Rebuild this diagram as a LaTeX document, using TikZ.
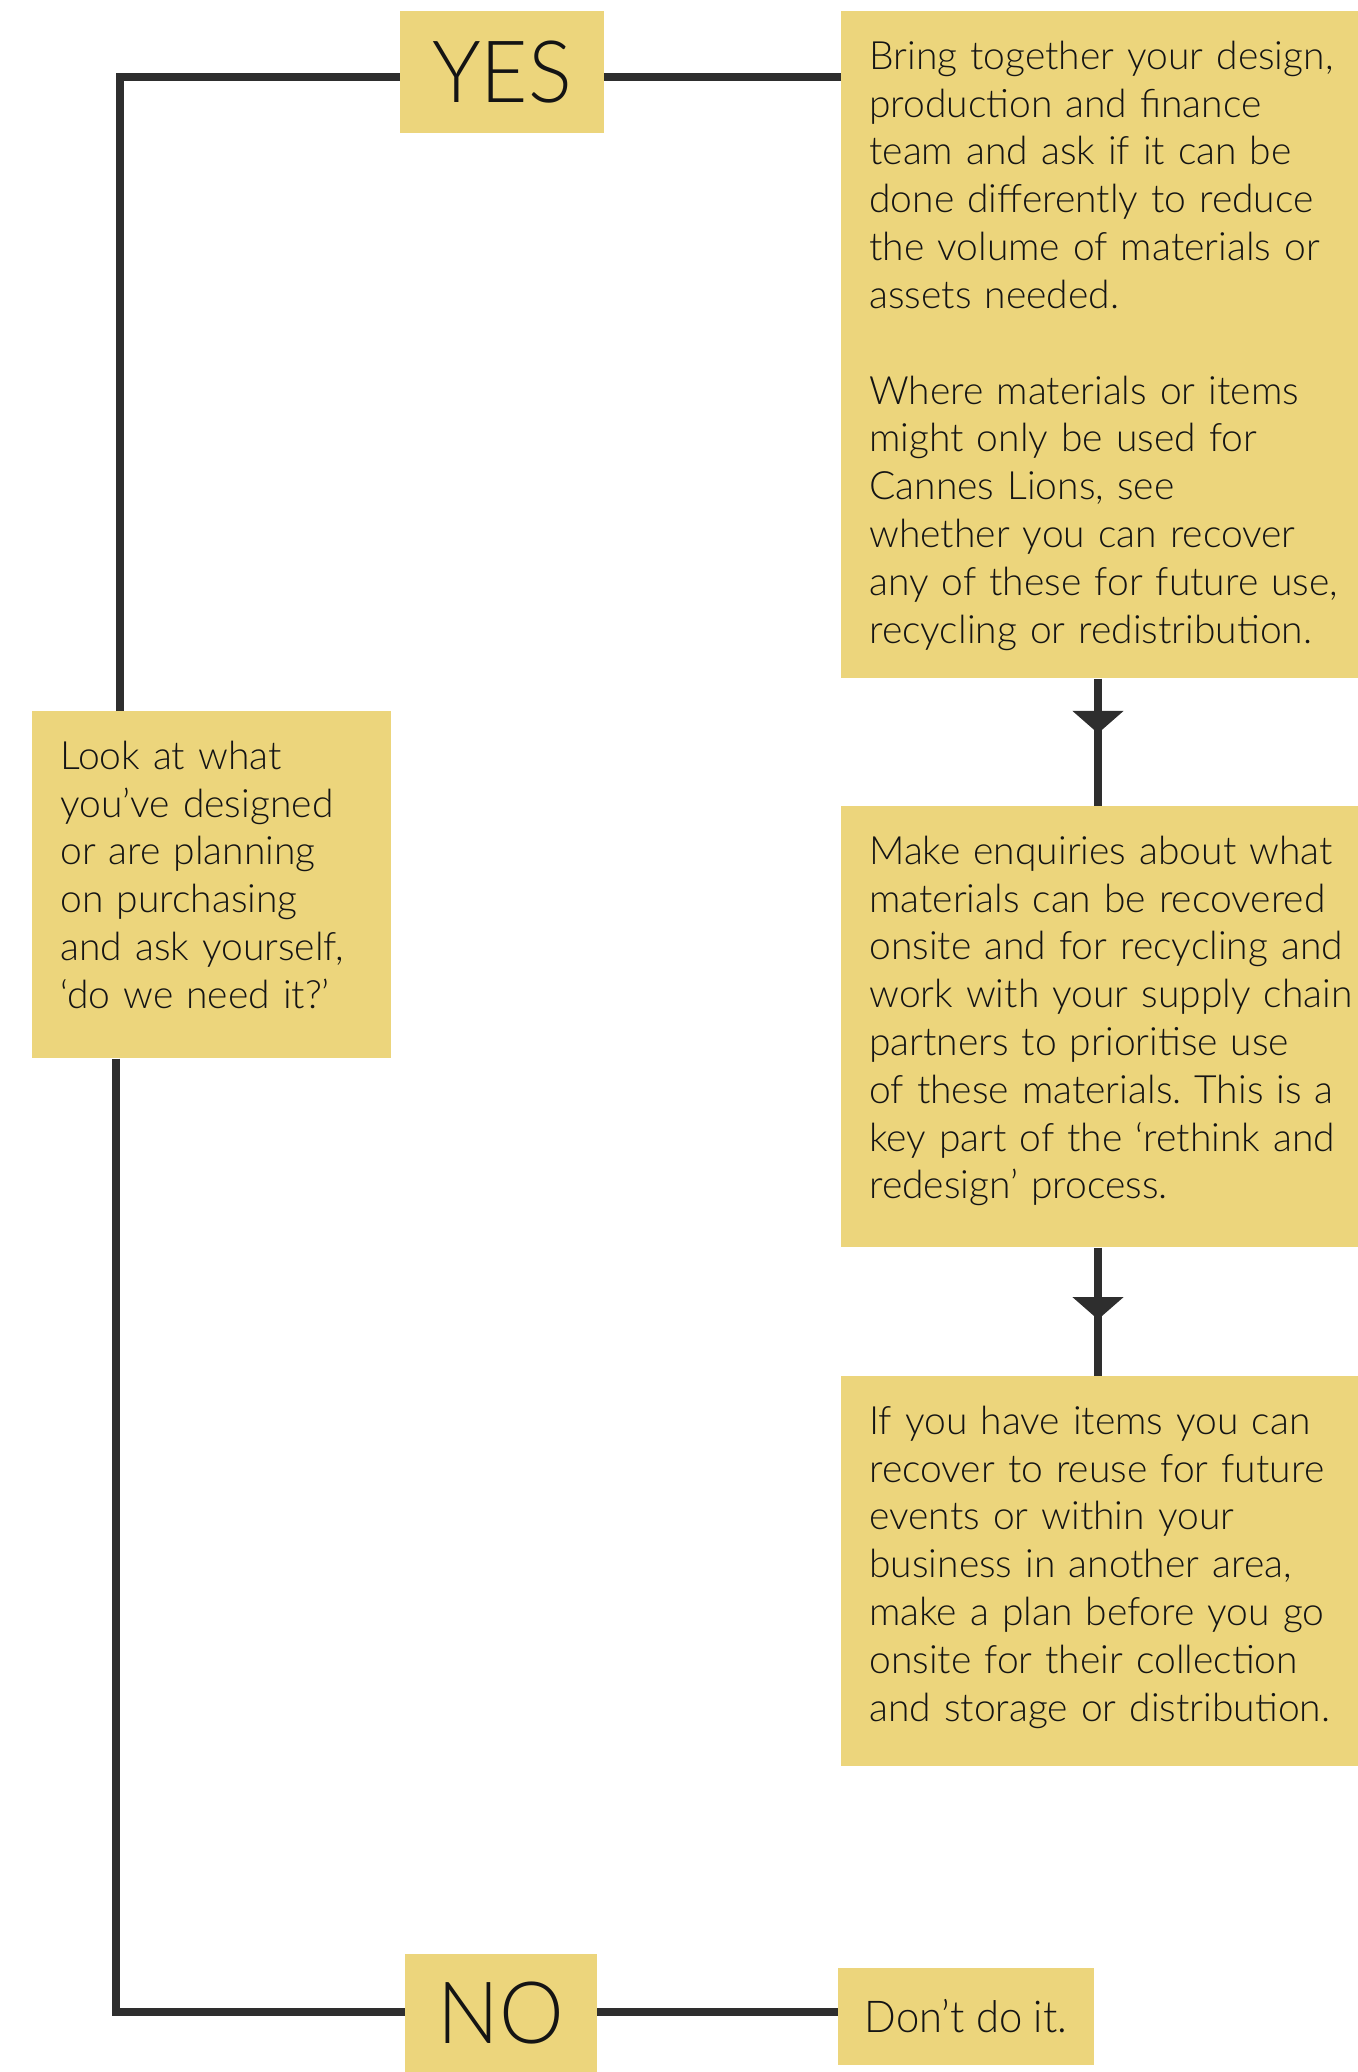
\documentclass[tikz,border=0pt]{standalone}
\usepackage{fontspec}
\IfFontExistsTF{Lato Light}{\def\bodyfam{Lato Light}}{\def\bodyfam{Lato}}
\setmainfont{\bodyfam}
\newfontfamily\answerfont{\bodyfam}[FakeStretch=0.95]
\frenchspacing
\usepackage{tikz}
\usetikzlibrary{positioning,arrows.meta,decorations.markings}

\definecolor{boxyellow}{RGB}{236,213,124}
\definecolor{linegray}{RGB}{46,46,46}
\definecolor{inkblack}{RGB}{20,20,20}

\begin{document}
\begin{tikzpicture}[
    x=0.02cm, y=-0.02cm,
    card/.style={fill=boxyellow, text=inkblack, anchor=north west, inner xsep=0.56cm, inner ysep=0pt,
        text width=9.9cm, align=left, text height=1.16cm, font=\fontsize{22.2}{27.2}\selectfont},
    answer/.style={fill=boxyellow, text=inkblack, inner sep=0pt, font=\answerfont\fontsize{49}{55}\selectfont},
    flow/.style={draw=linegray, line width=0.16cm},
    midarrow/.style={postaction={decorate}, decoration={markings,
        mark=at position #1 with {\arrow[linegray]{Triangle[width=1cm,length=0.45cm]}}}}
]
    \useasboundingbox (0,0) rectangle (1358,2072);

    % Question
    \node[card, text width=6.06cm, text depth=5.78cm] (look) at (32,711)
        {Look at what\\ you’ve designed\\ or are planning\\ on purchasing\\ and ask yourself,\\ ‘do we need it?’};

    % Answers
    \node[answer, minimum width=4.08cm, minimum height=2.44cm] (yes) at (502,72) {YES};
    \node[answer, minimum width=3.84cm, minimum height=2.36cm] (no) at (501,2013) {NO};

    % Steps
    \node[card, text depth=12.18cm] (b1) at (841,11)
        {Bring together your design,\\ production and finance\\ team and ask if it can be\\ done differently to reduce\\
         the volume of materials or\\ assets needed.\\[0.96cm]
         Where materials or items\\ might only be used for\\ Cannes Lions, see\\ whether you can recover\\
         any of these for future use,\\ recycling or redistribution.};
    \node[card, text depth=7.66cm] (b2) at (841,806)
        {Make enquiries about what\\ materials can be recovered\\ onsite and for recycling and\\ work with your supply chain\\
         partners to prioritise use\\ of these materials. This is a\\ key part of the ‘rethink and\\ redesign’ process.};
    \node[card, text depth=6.64cm] (b3) at (841,1376)
        {If you have items you can\\ recover to reuse for future\\ events or within your\\ business in another area,\\
         make a plan before you go\\ onsite for their collection\\ and storage or distribution.};
    \node[answer, font=\answerfont\fontsize{25}{29}\selectfont, minimum width=5.12cm, minimum height=1.94cm] (dont) at (966,2016) {Don’t do it.};

    % Connectors
    \coordinate (topbend) at (120,77);
    \coordinate (botbend) at (116,2012);
    \coordinate (spine) at (1098,0);
    \draw[flow] (look.north -| topbend) |- (yes.west |- topbend);
    \draw[flow] (yes.east |- topbend) -- (b1.west |- topbend);
    \draw[flow] (look.south -| botbend) |- (no.west |- botbend);
    \draw[flow] (no.east |- botbend) -- (dont.west |- botbend);
    \draw[flow, midarrow=0.43] (b1.south -| spine) -- (b2.north -| spine);
    \draw[flow, midarrow=0.56] (b2.south -| spine) -- (b3.north -| spine);

\end{tikzpicture}
\end{document}
